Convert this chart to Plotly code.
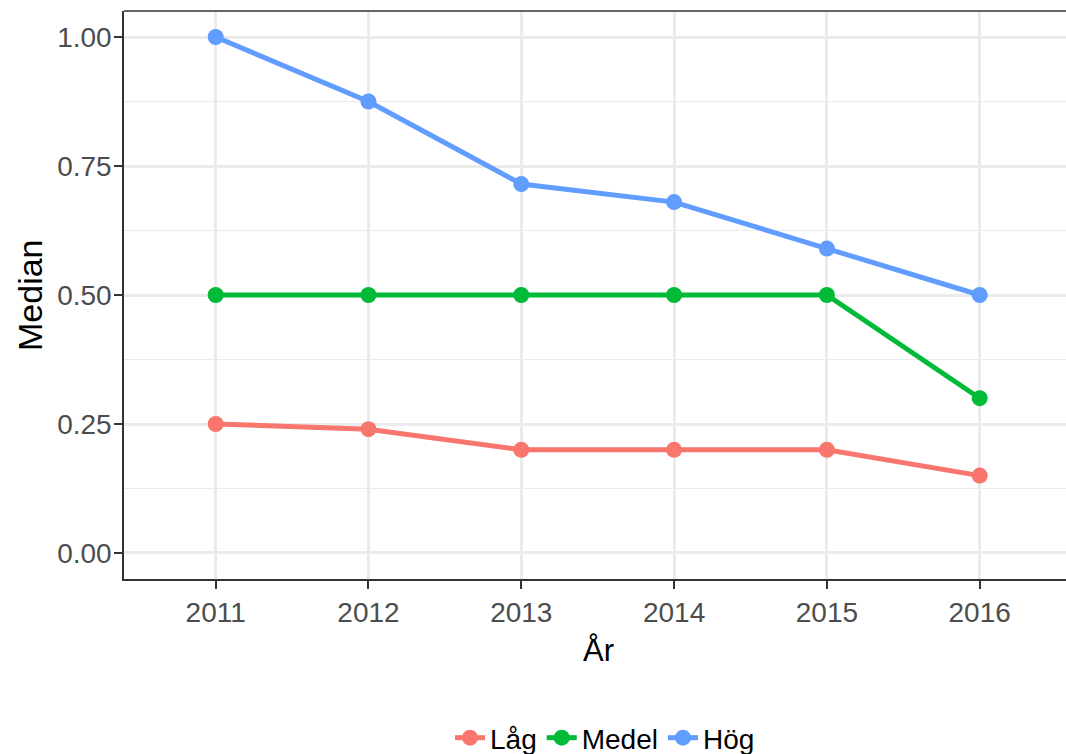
import plotly.graph_objects as go

years = [2011, 2012, 2013, 2014, 2015, 2016]
series_names = ["Låg", "Medel", "Hög"]
lag = [0.25, 0.24, 0.20, 0.20, 0.20, 0.15]
medel = [0.50, 0.50, 0.50, 0.50, 0.50, 0.30]
hog = [1.00, 0.875, 0.715, 0.68, 0.59, 0.50]
colors = ["#F8766D", "#00BA38", "#619CFF"]
y_ticks = [0.0, 0.25, 0.5, 0.75, 1.0]
y_tick_labels = ["0.00", "0.25", "0.50", "0.75", "1.00"]

FONT = "Arial, Liberation Sans, sans-serif"

fig = go.Figure()
for name, vals, col in zip(series_names, [lag, medel, hog], colors):
    fig.add_trace(go.Scatter(
        x=years, y=vals, name=name, mode="lines+markers",
        line=dict(color=col, width=5),
        marker=dict(color=col, size=16),
    ))

# the reference panel runs past the right edge of the image, so the figure is
# made a little wider than the window and the overflow is hidden
W, H = 1090, 754
L, T, R, B = 124, 11, 0, 175
pw = W - L - R
ph = H - T - B
px_per_year = 152.8
xr0 = 2011 - 0.6
xr1 = xr0 + pw / px_per_year

fig.update_layout(
    width=W, height=H,
    margin=dict(l=L, r=R, t=T, b=B, pad=0, autoexpand=False),
    paper_bgcolor="white", plot_bgcolor="white",
    font=dict(family=FONT, size=27, color="#4d4d4d"),
    showlegend=True,
    legend=dict(
        orientation="h", x=(605 - L) / pw, xanchor="center",
        y=(579 - 738) / ph, yanchor="middle",
        font=dict(size=28, color="black"),
        itemwidth=30, tracegroupgap=0,
    ),
    xaxis=dict(
        range=[xr0, xr1], tickvals=years, ticktext=[str(y) for y in years],
        showgrid=True, gridcolor="#ebebeb", gridwidth=2.5,
        zeroline=False,
        showline=True, linecolor="#333333", linewidth=1.5,
        ticks="outside", ticklen=8, tickwidth=2, tickcolor="#333333",
        tickfont=dict(size=28, color="#4d4d4d", family=FONT),
        automargin=False,
    ),
    yaxis=dict(
        range=[-0.0504, 1.0504], tickvals=y_ticks, ticktext=y_tick_labels,
        showgrid=True, gridcolor="#ebebeb", gridwidth=2.5,
        zeroline=False,
        showline=True, linecolor="#333333", linewidth=1.5,
        ticks="outside", ticklen=8, tickwidth=2, tickcolor="#333333",
        tickfont=dict(size=28, color="#4d4d4d", family=FONT),
        ticklabelstandoff=-3,
        automargin=False,
        minor=dict(tickvals=[0.125, 0.375, 0.625, 0.875], showgrid=True,
                   gridcolor="#ebebeb", gridwidth=1.2, ticks=""),
    ),
    shapes=[
        dict(type="line", xref="paper", yref="paper", x0=0, x1=1, y0=1, y1=1,
             line=dict(color="#333333", width=1.5), layer="above"),
    ],
    annotations=[
        dict(text="Median", x=(30 - L) / pw, y=(579 - 295) / ph, xref="paper", yref="paper",
             textangle=-90, showarrow=False, xanchor="center", yanchor="middle",
             font=dict(size=34, color="black", family=FONT)),
        dict(text="År", x=(598 - L) / pw, y=(579 - 650) / ph, xref="paper", yref="paper",
             showarrow=False, xanchor="center", yanchor="middle",
             font=dict(size=31, color="black", family=FONT)),
    ],
)

fig.write_html(
    "out.html",
    config={"displayModeBar": False},
    post_script="document.body.style.margin='0';document.body.style.overflow='hidden';",
)
